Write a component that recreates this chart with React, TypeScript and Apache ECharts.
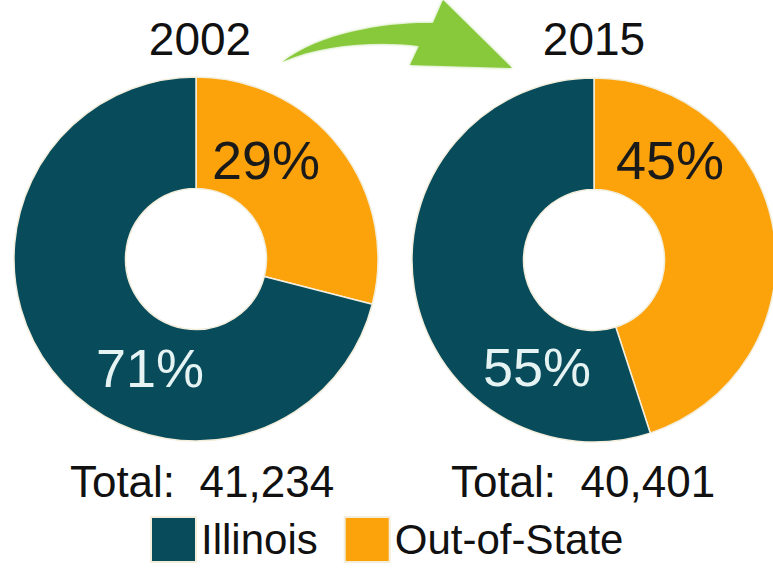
import React, { useEffect, useRef } from "react";
import * as echarts from "echarts";

// ---- data ----
const years = ["2002", "2015"];
const categories = ["Illinois", "Out-of-State"];
const illinoisShare = [71, 55];
const outOfStateShare = [29, 45];
const totals = [41234, 40401];

const TEAL = "#084b5b";
const ORANGE = "#fca30c";

const ARROW_D =
  "M 282 62 C 322 32 388 22 433 23 L 443 0 L 512 68 L 410 65 L 419 46 C 378 41 322 44 282 62 Z";
echarts.graphic.registerShape("logo", echarts.graphic.extendPath(ARROW_D as any, {}) as any);

const centers: [number, number][] = [
  [196, 259],
  [594, 260],
];
const outLabelPos: [number, number][] = [
  [266, 160],
  [670, 160],
];
const ilLabelPos: [number, number][] = [
  [150, 368],
  [537, 367],
];
const titleX = [200, 594];
const totalX = [202, 583];

export default function App() {
  const ref = useRef<HTMLDivElement>(null);
  useEffect(() => {
    if (!ref.current) return;
    const chart = echarts.init(ref.current, null, { renderer: "svg" });
    const font = "'Liberation Sans', Arial, sans-serif";

    const series: any[] = years.map((y, i) => ({
      type: "pie",
      name: y,
      center: centers[i],
      radius: [70.5, 182],
      startAngle: 90,
      clockwise: true,
      silent: true,
      z: 1,
      label: { show: false },
      labelLine: { show: false },
      itemStyle: { borderColor: "#f3eedc", borderWidth: 1.5 },
      data: [
        { name: categories[1], value: outOfStateShare[i], itemStyle: { color: ORANGE } },
        { name: categories[0], value: illinoisShare[i], itemStyle: { color: TEAL } },
      ],
    }));

    const txt = (x: number, y: number, text: string, fill: string, fontSize: number) => ({
      type: "text",
      x,
      y,
      z: 100,
      style: {
        text,
        fill,
        fontSize,
        fontFamily: font,
        textAlign: "center",
        textVerticalAlign: "middle",
        align: "center",
        verticalAlign: "middle",
      },
    });

    const graphics: any[] = [];
    years.forEach((y, i) => {
      graphics.push(txt(titleX[i], 39, y, "#111", 46));
      graphics.push(txt(totalX[i], 481, "Total:  " + totals[i].toLocaleString("en-US"), "#111", 44));
      graphics.push(txt(outLabelPos[i][0], outLabelPos[i][1], outOfStateShare[i] + "%", "#1a1a1a", 54));
      graphics.push(txt(ilLabelPos[i][0], ilLabelPos[i][1], illinoisShare[i] + "%", "#e6f3f3", 54));
    });
    graphics.push({
      type: "logo",
      x: 0,
      y: 0,
      scaleX: 1,
      scaleY: 1,
      z: 100,
      style: { fill: "#88c93a", shadowBlur: 3, shadowColor: "rgba(120,190,50,0.6)" },
    });

    chart.setOption({
      animation: false,
      backgroundColor: "#ffffff",
      legend: {
        data: categories,
        left: 150,
        top: 516,
        padding: 0,
        icon: "rect",
        itemWidth: 45,
        itemHeight: 45,
        itemGap: 26,
        selectedMode: false,
        textStyle: { fontSize: 42, fontFamily: font, color: "#111" },
      },
      series,
      graphic: { elements: graphics },
    });
    return () => chart.dispose();
  }, []);
  return (
    <div
      ref={ref}
      style={{ position: "fixed", left: 0, top: 0, width: 773, height: 575, background: "#fff" }}
    />
  );
}
